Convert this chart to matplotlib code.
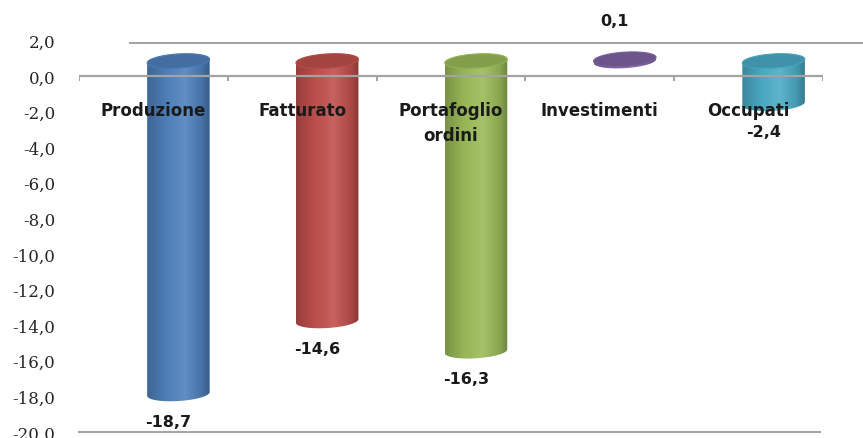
import matplotlib
matplotlib.use('Agg')
import matplotlib.pyplot as plt
import numpy as np
from matplotlib.patches import Polygon
from matplotlib.colors import LinearSegmentedColormap, to_rgb

# ---------------- data ----------------
categories = ['Produzione', 'Fatturato', 'Portafoglio\nordini', 'Investimenti', 'Occupati']
values = [-18.7, -14.6, -16.3, 0.1, -2.4]
value_labels = ['-18,7', '-14,6', '-16,3', '0,1', '-2,4']
colors = ['#4F81BD', '#C0504D', '#9BBB59', '#8064A2', '#4BACC6']
yticks = [2, 0, -2, -4, -6, -8, -10, -12, -14, -16, -18, -20]
ytick_labels = ['2,0', '0,0', '-2,0', '-4,0', '-6,0', '-8,0', '-10,0',
                '-12,0', '-14,0', '-16,0', '-18,0', '-20,0']

# 3D look (depth offset of the cylinders, size of the ellipses)
DX, DY = 0.168, 0.84
W, EH = 0.42, 0.8
SHEAR = 0.5
GRID = '#a3a3a3'


def shade(c, f):
    r = np.array(to_rgb(c))
    if f < 1:
        return tuple(r * f)
    return tuple(r + (1 - r) * (f - 1))


# cylinder body = gradient image clipped to a rectangle + bottom half ellipse
def cylinder(ax, xc, ytop, ybot, color):
    t = np.linspace(0, np.pi, 50)
    xs = xc + W / 2 * np.cos(t)
    shear = SHEAR * (xs - xc)
    pts = [(xc - W / 2, ytop - SHEAR * W / 2), (xc + W / 2, ytop + SHEAR * W / 2)]
    pts += list(zip(xs, ybot - EH / 2 * np.sin(t) + shear))
    body = Polygon(pts, closed=True, facecolor='none', edgecolor='none', zorder=3)
    ax.add_patch(body)
    cmap = LinearSegmentedColormap.from_list('c', [
        (0.0, shade(color, 0.78)), (0.3, shade(color, 0.97)),
        (0.6, shade(color, 1.1)), (0.88, shade(color, 0.88)),
        (1.0, shade(color, 0.7))])
    grad = np.linspace(0, 1, 256).reshape(1, -1)
    im = ax.imshow(grad, extent=(xc - W / 2, xc + W / 2, ybot - EH, ytop + EH),
                   aspect='auto', cmap=cmap, zorder=3, interpolation='bilinear')
    im.set_clip_path(body)

    # top face
    t2 = np.linspace(0, 2 * np.pi, 100)
    ex = xc + W / 2 * np.cos(t2)
    ey = ytop + EH / 2 * np.sin(t2) + SHEAR * (ex - xc)
    top = Polygon(list(zip(ex, ey)), closed=True, facecolor=shade(color, 0.85),
                  edgecolor=shade(color, 0.95), lw=0.8, zorder=4)
    ax.add_patch(top)


fig = plt.figure(figsize=(8.63, 4.39), dpi=100)
ax = fig.add_axes([79 / 863, 6 / 439, 744 / 863, 391.6 / 439])
ax.set_xlim(-0.5, 4.5)
ax.set_ylim(-20, 2)
for s in ax.spines.values():
    s.set_visible(False)
ax.set_xticks([])
ax.set_yticks(yticks)
ax.set_yticklabels(ytick_labels, fontfamily='DejaVu Serif', fontsize=12, color='#262626')
ax.tick_params(axis='y', length=0, pad=17)

# walls / floor lines
ax.plot([-0.16, 4.85], [1.83, 1.83], color=GRID, lw=1.4, clip_on=False, zorder=1)
ax.plot([-0.5, 4.48], [-20, -20], color=GRID, lw=1.4, clip_on=False, zorder=1)

x = np.arange(len(categories))
for i, v in enumerate(values):
    cylinder(ax, x[i] + DX, max(v, 0) + DY, min(v, 0) + DY, colors[i])

# front edge of the floor at zero, with category separators
ax.plot([-0.5, 4.5], [0, 0], color=GRID, lw=1.6, zorder=6, solid_capstyle='butt')
ax.vlines(np.arange(-0.5, 5, 1), -0.3, 0, color=GRID, lw=1.4, zorder=6)

# category names
for i, name in enumerate(categories):
    ax.text(x[i], -1.42, name, ha='center', va='top', fontsize=12, fontweight='bold',
            color='#1a1a1a', linespacing=1.45, zorder=7)

# value labels
for i, v in enumerate(values):
    if v >= 0:
        ypos = v + 3.0
    else:
        ypos = v - 0.72
    ax.text(x[i] + 0.1, ypos, value_labels[i], ha='center', va='center', fontsize=11.5,
            fontweight='bold', color='#1a1a1a', zorder=7)

ax.set_xlim(-0.5, 4.5)
ax.set_ylim(-20, 2)
fig.savefig('out.png', dpi=100)
